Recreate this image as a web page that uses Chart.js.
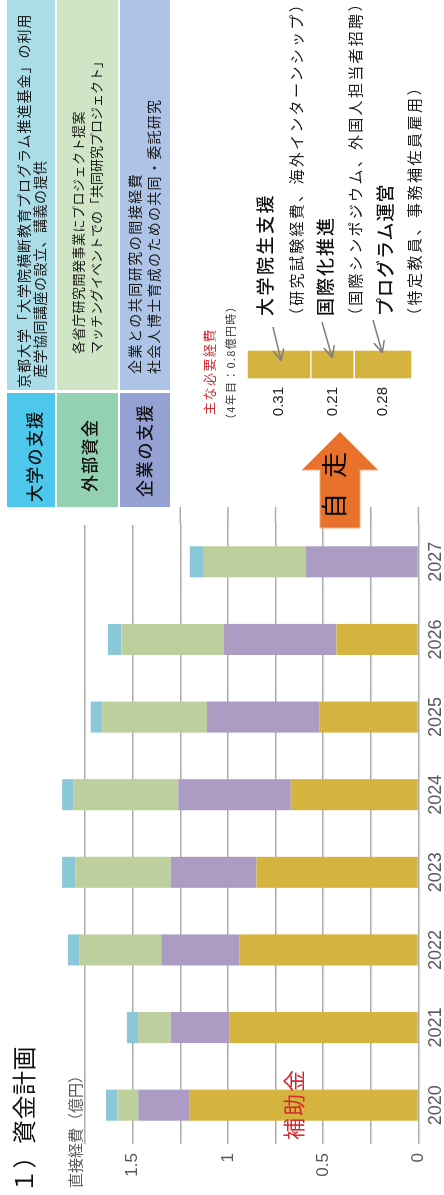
<!DOCTYPE html>
<html lang="ja">
<head>
<meta charset="utf-8">
<title>資金計画</title>
<script src="https://cdn.jsdelivr.net/npm/chart.js@4.4.1/dist/chart.umd.min.js"></script>
<style>
html,body{margin:0;padding:0;width:444px;height:1195px;overflow:hidden;background:#fff;}
#stage{position:absolute;left:0;top:0;width:1195px;height:444px;transform-origin:0 0;transform:translate(0,1195px) rotate(-90deg);overflow:hidden;background:#fff;font-family:"Noto Sans CJK JP","Noto Sans",sans-serif;color:#111;}
.abs{position:absolute;white-space:nowrap;line-height:1;}
.cell{position:absolute;}
.hd{font-size:17px;font-weight:500;color:#111;}
.ds{color:#1a1a1a;}
.lbl{font-size:18px;font-weight:500;color:#111;}
.par{font-size:15px;letter-spacing:2.3px;color:#1a1a1a;}
</style>
</head>
<body>
<div id="stage">
  <canvas id="main" width="690" height="454" style="position:absolute;left:0;top:0"></canvas>
  <!-- white margin behind the table -->
  <div class="cell" style="left:670px;top:0;width:525px;height:176px;background:#fff"></div>
  <!-- table cells -->
  <div class="cell" style="left:688px;top:7px;width:114px;height:48px;background:#4DC8EC"></div>
  <div class="cell" style="left:805px;top:7px;width:390px;height:48px;background:#AADDE7"></div>
  <div class="cell" style="left:688px;top:57px;width:114px;height:61px;background:#93D1B3"></div>
  <div class="cell" style="left:805px;top:57px;width:390px;height:61px;background:#CFE5C5"></div>
  <div class="cell" style="left:688px;top:120px;width:114px;height:50px;background:#95A1D3"></div>
  <div class="cell" style="left:805px;top:120px;width:390px;height:50px;background:#AEC4E6"></div>

  <div class="abs hd" style="left:693px;top:25px;letter-spacing:1.3px">大学の支援</div>
  <div class="abs hd" style="left:703px;top:80px;letter-spacing:1.3px">外部資金</div>
  <div class="abs hd" style="left:698px;top:135px;letter-spacing:1.7px">企業の支援</div>

  <div class="abs ds" style="left:807px;top:15.5px;font-size:14px;letter-spacing:1px">京都大学「大学院横断教育プログラム推進基金」の利用</div>
  <div class="abs ds" style="left:817px;top:31.5px;font-size:14px;letter-spacing:0.5px">産学協同講座の設立、講義の提供</div>
  <div class="abs ds" style="left:841px;top:70.5px;font-size:13px;letter-spacing:0.5px">各省庁研究開発事業にプロジェクト提案</div>
  <div class="abs ds" style="left:841px;top:88.5px;font-size:13px;letter-spacing:0px">マッチングイベントでの「共同研究プロジェクト」</div>
  <div class="abs ds" style="left:821px;top:126.5px;font-size:14px;letter-spacing:1.5px">企業との共同研究の間接経費</div>
  <div class="abs ds" style="left:821px;top:145.5px;font-size:14px;letter-spacing:1.3px">社会人博士育成のための共同・委託研究</div>

  <canvas id="mini" width="100" height="180" style="position:absolute;left:760px;top:240px"></canvas>

  <svg class="abs" style="left:0;top:0" width="1195" height="444" viewBox="0 0 1195 444">
    <defs>
      <marker id="ah" viewBox="0 0 10 10" refX="9" refY="5" markerWidth="12" markerHeight="12" orient="auto" markerUnits="userSpaceOnUse">
        <path d="M0,0.5 L9.5,5 L0,9.5" fill="none" stroke="#7F7F7F" stroke-width="1.3"/>
      </marker>
    </defs>
    <line x1="868" y1="273" x2="835" y2="281" stroke="#7F7F7F" stroke-width="1.5" marker-end="url(#ah)"/>
    <line x1="873" y1="322" x2="838" y2="332" stroke="#7F7F7F" stroke-width="1.5" marker-end="url(#ah)"/>
    <line x1="875" y1="373" x2="843" y2="382" stroke="#7F7F7F" stroke-width="1.5" marker-end="url(#ah)"/>
    <polygon points="667,320 725,320 725,302 763,340 725,378 725,360 667,360" fill="#E8712B" stroke="#F3AE82" stroke-width="1"/>
  </svg>

  <div class="abs" style="left:2px;top:11px;font-size:24px;letter-spacing:0.5px;color:#111">１）資金計画</div>
  <div class="abs" style="left:7px;top:66.5px;font-size:15px;color:#595959">直接経費（億円）</div>
  <div class="abs" style="left:55px;top:281px;font-size:22px;letter-spacing:2px;color:#D42A2F">補助金</div>

  <div class="abs" style="left:780px;top:201.5px;font-size:13px;letter-spacing:1.5px;color:#D0303A">主な必要経費</div>
  <div class="abs" style="left:770px;top:224.5px;font-size:11px;letter-spacing:1.3px;color:#333">（4年目：0.8億円時）</div>

  <div class="abs lbl" style="left:879px;top:255px;letter-spacing:2.5px">大学院生支援</div>
  <div class="abs par" style="left:872px;top:288px">（研究試験経費、海外インターンシップ）</div>
  <div class="abs lbl" style="left:879px;top:315px;letter-spacing:2px">国際化推進</div>
  <div class="abs par" style="left:872px;top:346.5px">（国際シンポジウム、外国人担当者招聘）</div>
  <div class="abs lbl" style="left:879px;top:375px;letter-spacing:1px">プログラム運営</div>
  <div class="abs par" style="left:872px;top:405.5px;letter-spacing:2.5px">（特定教員、事務補佐員雇用）</div>

  <div class="abs" style="left:676px;top:320px;font-size:26px;letter-spacing:15px;color:#000">自走</div>
</div>

<script>
// ---- data ----
const years = ['2020', '2021', '2022', '2023', '2024', '2025', '2026', '2027'];
const subsidy = [1.20, 0.99, 0.94, 0.85, 0.67, 0.52, 0.43, 0];
const companySupport = [0.27, 0.31, 0.41, 0.45, 0.59, 0.59, 0.59, 0.59];
const externalFunds = [0.11, 0.17, 0.43, 0.50, 0.55, 0.55, 0.54, 0.54];
const universitySupport = [0.06, 0.06, 0.06, 0.07, 0.06, 0.06, 0.07, 0.07];
const valueTicks = [0, 0.5, 1, 1.5];

const costItems = ['大学院生支援', '国際化推進', 'プログラム運営'];
const costValues = [0.31, 0.21, 0.28];

const GRID = '#ABABAB';

// extend the horizontal gridlines a little to the right of the plot area
const extendGrid = {
  id: 'extendGrid',
  beforeDatasetsDraw(chart) {
    const { ctx, chartArea, scales: { y } } = chart;
    ctx.save();
    ctx.strokeStyle = GRID;
    ctx.lineWidth = 1.5;
    y.ticks.forEach(t => {
      const py = y.getPixelForValue(t.value);
      ctx.beginPath();
      ctx.moveTo(chartArea.right, py);
      ctx.lineTo(chartArea.right + 16, py);
      ctx.stroke();
    });
    ctx.restore();
  }
};

const barStyle = { barPercentage: 0.4, categoryPercentage: 1, clip: false, borderWidth: 0 };

new Chart(document.getElementById('main'), {
  type: 'bar',
  data: {
    labels: years,
    datasets: [
      Object.assign({ label: '補助金', data: subsidy, backgroundColor: '#D4B43E' }, barStyle),
      Object.assign({ label: '企業の支援', data: companySupport, backgroundColor: '#AC9CC3' }, barStyle),
      Object.assign({ label: '外部資金', data: externalFunds, backgroundColor: '#BDCF9C' }, barStyle),
      Object.assign({ label: '大学の支援', data: universitySupport, backgroundColor: '#8BC8D7' }, barStyle)
    ]
  },
  options: {
    responsive: false,
    animation: false,
    layout: { padding: { top: 85, right: 18, bottom: 0, left: 0 } },
    plugins: { legend: { display: false }, tooltip: { enabled: false } },
    scales: {
      x: {
        stacked: true,
        grid: { display: false, drawTicks: false },
        border: { display: false },
        ticks: { color: '#595959', font: { family: 'Liberation Sans', size: 18 }, padding: 7, maxRotation: 0 }
      },
      y: {
        stacked: true,
        min: 0,
        max: 1.75,
        border: { display: false },
        grid: { color: GRID, lineWidth: 1.5, drawTicks: false },
        ticks: {
          stepSize: 0.25,
          color: '#595959',
          font: { family: 'Liberation Sans', size: 17 },
          padding: 9,
          callback: v => valueTicks.includes(v) ? String(v) : ''
        },
        afterFit: s => { s.width = 51; }
      }
    }
  },
  plugins: [extendGrid]
});

// labels to the left of each segment of the small cost bar
const costLabels = {
  id: 'costLabels',
  afterDatasetsDraw(chart) {
    const { ctx } = chart;
    ctx.save();
    ctx.font = '15px "Liberation Sans"';
    ctx.fillStyle = '#222';
    ctx.textAlign = 'right';
    ctx.textBaseline = 'middle';
    chart.data.datasets.forEach((ds, i) => {
      const bar = chart.getDatasetMeta(i).data[0];
      const { x, y, base, width } = bar.getProps(['x', 'y', 'base', 'width'], true);
      ctx.fillText(ds.data[0].toFixed(2), x - width / 2 - 8, (y + base) / 2);
    });
    ctx.restore();
  }
};

new Chart(document.getElementById('mini'), {
  type: 'bar',
  data: {
    labels: ['主な必要経費'],
    datasets: costValues.map((v, i) => ({
      label: costItems[i],
      data: [v],
      backgroundColor: '#D4B43E',
      borderColor: '#fff',
      borderWidth: 1,
      borderSkipped: false,
      barPercentage: 1,
      categoryPercentage: 1
    }))
  },
  options: {
    responsive: false,
    animation: false,
    layout: { padding: { left: 56, right: 15, top: 7, bottom: 8 } },
    plugins: { legend: { display: false }, tooltip: { enabled: false } },
    scales: {
      x: { stacked: true, display: false },
      y: { stacked: true, display: false, min: 0, max: 0.8, reverse: true }
    }
  },
  plugins: [costLabels]
});
</script>
</body>
</html>
